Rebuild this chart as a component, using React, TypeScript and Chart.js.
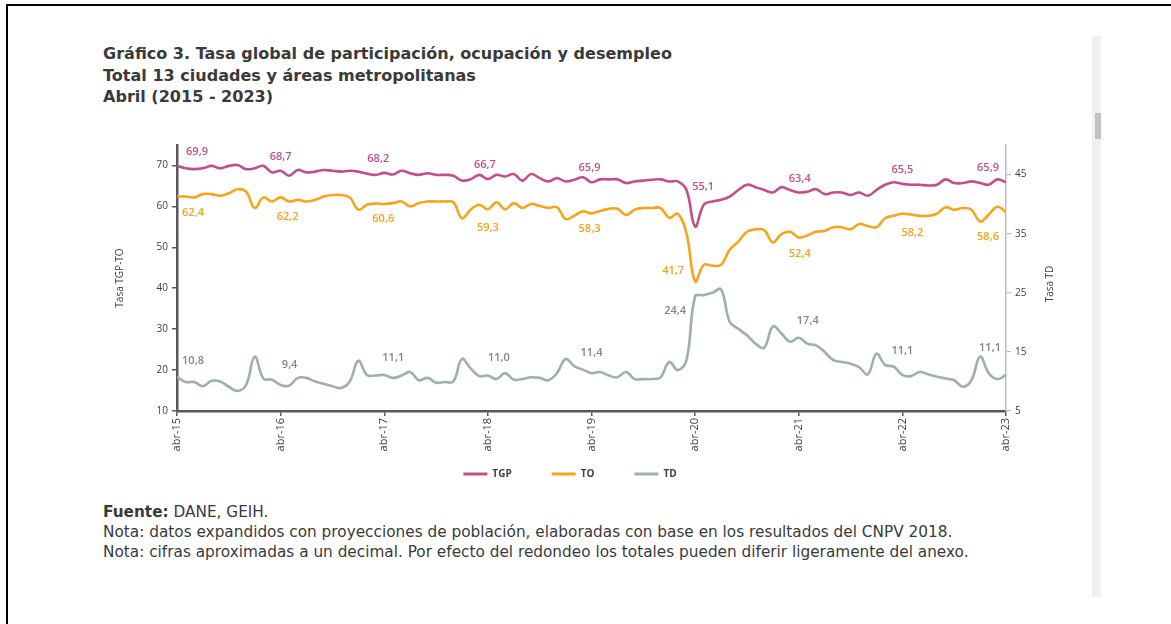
import React, { useEffect, useRef } from "react";
import { Chart, registerables } from "chart.js";

Chart.register(...registerables);

// ---------- categories (monthly, abr-15 .. abr-23) ----------
const MONTH_ABBR = ["ene", "feb", "mar", "abr", "may", "jun", "jul", "ago", "sep", "oct", "nov", "dic"];
const START_YEAR = 2015;
const START_MONTH = 3; // abril
const N_MONTHS = 97;
const categories: string[] = Array.from({ length: N_MONTHS }, (_, i) => {
  const m = START_MONTH + i;
  return `${MONTH_ABBR[m % 12]}-${String((START_YEAR + Math.floor(m / 12)) % 100).padStart(2, "0")}`;
});
const aprilIndex: number[] = categories.map((c, i) => (c.startsWith("abr") ? i : -1)).filter((i) => i >= 0);

// ---------- series ----------
const tgp = [
  69.9, 69.3, 69.1, 69.3, 69.9, 69.3, 69.9, 70.1, 69.1, 69.3, 69.9, 68.3,
  68.7, 67.5, 68.9, 68.3, 68.5, 68.9, 68.7, 68.5, 68.7, 68.5, 68.0, 67.7,
  68.2, 67.8, 68.7, 68.1, 67.7, 68.1, 67.7, 67.7, 67.5, 66.3, 66.6, 67.7,
  66.7, 67.7, 67.3, 67.9, 66.3, 67.9, 66.9, 66.1, 66.9, 66.1, 66.5, 67.1,
  65.9, 66.6, 66.6, 66.6, 65.7, 66.1, 66.3, 66.5, 66.6, 66.1, 66.1, 64.0,
  55.1, 60.4, 61.2, 61.6, 62.4, 64.0, 65.3, 64.7, 64.0, 63.4, 64.7, 64.0,
  63.4, 63.6, 64.2, 63.0, 63.4, 63.4, 62.8, 63.4, 62.6, 64.0, 65.3, 65.9,
  65.5, 65.3, 65.3, 65.1, 65.3, 66.6, 65.7, 65.7, 66.1, 65.7, 65.3, 66.6,
  65.9,
];
const to = [
  62.4, 62.4, 62.2, 63.0, 63.0, 62.6, 63.2, 64.2, 63.6, 59.6, 62.2, 61.2,
  62.2, 61.2, 61.6, 61.2, 61.6, 62.4, 62.8, 62.8, 62.2, 59.2, 60.4, 60.7,
  60.6, 60.8, 61.2, 60.0, 60.8, 61.2, 61.2, 61.2, 61.0, 57.1, 59.2, 60.4,
  59.3, 61.0, 59.3, 60.8, 59.6, 60.6, 60.1, 59.6, 59.8, 56.9, 57.7, 58.8,
  58.3, 58.9, 59.4, 59.4, 57.9, 59.2, 59.6, 59.6, 59.6, 57.2, 58.2, 53.4,
  41.7, 45.7, 45.5, 45.7, 49.4, 51.4, 53.8, 54.4, 54.2, 51.2, 53.2, 53.8,
  52.4, 52.9, 53.8, 54.0, 54.9, 54.9, 54.4, 55.7, 55.2, 54.9, 57.1, 57.7,
  58.2, 58.0, 57.7, 57.7, 58.2, 59.8, 59.2, 59.6, 59.2, 56.3, 58.0, 59.9,
  58.6,
];
const td = [
  10.8, 9.9, 9.9, 9.2, 10.1, 10.0, 9.1, 8.4, 9.4, 14.2, 10.5, 10.3,
  9.4, 9.3, 10.6, 10.6, 10.0, 9.6, 9.2, 8.9, 10.0, 13.5, 11.1, 11.0,
  11.1, 10.6, 11.0, 11.6, 10.2, 10.6, 9.8, 9.9, 10.0, 13.8, 12.2, 10.9,
  11.0, 10.4, 11.4, 10.3, 10.4, 10.7, 10.6, 10.2, 11.4, 13.8, 12.6, 12.0,
  11.4, 11.6, 11.0, 10.7, 11.6, 10.4, 10.4, 10.4, 10.7, 13.3, 11.9, 13.6,
  24.4, 24.6, 25.0, 25.6, 20.1, 18.9, 17.8, 16.4, 15.7, 19.3, 18.1, 16.7,
  17.4, 16.4, 16.1, 15.0, 13.6, 13.3, 13.0, 12.4, 11.2, 14.7, 12.8, 12.5,
  11.1, 10.9, 11.6, 11.2, 10.8, 10.5, 10.2, 9.1, 10.2, 14.2, 11.4, 10.4,
  11.1,
];
const seriesNames = ["TGP", "TO", "TD"];
const leftTicks = [10, 20, 30, 40, 50, 60, 70];
const rightTicks = [5, 15, 25, 35, 45];

// ---------- styles ----------
const COLORS = ["#c0508a", "#f5a51d", "#9db0a9"];
const LABEL_COLORS = ["#c0508a", "#f2a31b", "#858585"];
// label offsets (px) relative to the point, one per April
const LABEL_OFFSETS: number[][][] = [
  [[20, -14], [0, -14], [-6, -14], [-3, -14], [-2, -14], [8, -40], [1, -14], [0, -14], [-18, -14]],
  [[16, 16], [7, 19], [-1, 15], [0, 19], [-2, 16], [-22, -10], [1, 16], [10, 19], [-18, 25]],
  [[16, -16], [9, -20], [9, -17], [11, -18], [0, -20], [-20, 15], [9, -17], [0, -24], [-16, -27]],
];
const FONT = '"Open Sans", "Noto Sans", sans-serif';
const TEXT_FONT = '"DejaVu Sans", "Open Sans", sans-serif';
const fmt = (v: number) => v.toFixed(1).replace(".", ",");

const annotatePlugin = {
  id: "annotate",
  afterLayout(chart: any) {
    // let the rotated month labels extend below the (compact) axis box
    const x = chart.scales.x;
    x.bottom = x.top + 60;
  },
  afterDatasetsDraw(chart: any) {
    const ctx = chart.ctx as CanvasRenderingContext2D;
    ctx.save();
    ctx.font = `600 11px ${FONT}`;
    ctx.textAlign = "center";
    ctx.textBaseline = "middle";
    chart.data.datasets.forEach((ds: any, di: number) => {
      const meta = chart.getDatasetMeta(di);
      ctx.fillStyle = LABEL_COLORS[di];
      aprilIndex.forEach((idx, k) => {
        const pt = meta.data[idx];
        const off = LABEL_OFFSETS[di][k];
        ctx.fillText(fmt(ds.data[idx]), pt.x + off[0], pt.y + off[1]);
      });
    });
    // right axis title (reads bottom-to-top)
    const y1 = chart.scales.y1;
    const ca = chart.chartArea;
    ctx.translate(y1.right + 10, (ca.top + ca.bottom) / 2 + 6);
    ctx.rotate(-Math.PI / 2);
    ctx.font = `10px ${FONT}`;
    ctx.fillStyle = "#404040";
    ctx.fillText("Tasa TD", 0, 0);
    ctx.restore();
  },
};

export default function App() {
  const ref = useRef<HTMLCanvasElement>(null);

  useEffect(() => {
    const seriesData = [tgp, to, td];
    const chart = new Chart(ref.current!, {
      type: "line",
      data: {
        labels: categories.map((_, i) => i),
        datasets: seriesData.map((d, i) => ({
          label: seriesNames[i],
          data: d,
          borderColor: COLORS[i],
          backgroundColor: COLORS[i],
          borderWidth: 2.6,
          pointRadius: 0,
          tension: 0.4,
          fill: false,
          yAxisID: i === 2 ? "y1" : "y",
        })),
      },
      options: {
        responsive: false,
        animation: false,
        devicePixelRatio: 1,
        layout: { padding: { top: 10, left: 0, right: 30, bottom: 0 } },
        scales: {
          x: {
            type: "linear",
            min: 0,
            max: N_MONTHS - 1,
            afterBuildTicks: (s: any) => {
              s.ticks = aprilIndex.map((v) => ({ value: v }));
            },
            afterFit: (s: any) => {
              s.height = 18;
            },
            ticks: {
              autoSkip: false,
              minRotation: 90,
              maxRotation: 90,
              padding: 2,
              color: "#404040",
              font: { size: 11, family: FONT },
              callback: (v: any) => categories[v] ?? "",
            },
            grid: { drawOnChartArea: false, drawTicks: true, tickLength: 5, color: "#595959", lineWidth: 1.5 },
            border: { display: true, color: "#595959", width: 2.5 },
          },
          y: {
            position: "left",
            min: 10,
            max: 75,
            afterBuildTicks: (s: any) => {
              s.ticks = leftTicks.map((v) => ({ value: v }));
            },
            afterFit: (s: any) => {
              s.width = 77;
            },
            ticks: { color: "#404040", padding: 4, font: { size: 10, family: FONT } },
            grid: { drawOnChartArea: false, drawTicks: true, tickLength: 5, color: "#595959", lineWidth: 1.5 },
            border: { display: true, color: "#595959", width: 2.5 },
            title: {
              display: true,
              text: "Tasa TGP-TO",
              color: "#404040",
              font: { size: 10, family: FONT },
              padding: { top: 14, bottom: 0 },
            },
          },
          y1: {
            position: "right",
            min: 5,
            max: 50,
            afterBuildTicks: (s: any) => {
              s.ticks = rightTicks.map((v) => ({ value: v }));
            },
            afterFit: (s: any) => {
              s.width = 34;
            },
            ticks: { color: "#404040", padding: 4, font: { size: 10, family: FONT } },
            grid: { drawOnChartArea: false, drawTicks: true, tickLength: 5, color: "#bdbdbd", lineWidth: 1.2 },
            border: { display: true, color: "#bdbdbd", width: 1.5 },
          },
        },
        plugins: {
          tooltip: { enabled: false },
          legend: {
            display: true,
            position: "bottom",
            align: "center",
            labels: {
              boxWidth: 24,
              boxHeight: 3,
              padding: 40,
              color: "#404040",
              font: { size: 10, weight: "bold", family: FONT },
              generateLabels: (c: any) =>
                (Chart.defaults.plugins.legend.labels.generateLabels as any)(c).map((l: any) => ({ ...l, lineWidth: 0 })),
            },
          },
        },
      },
      plugins: [annotatePlugin],
    } as any);
    return () => chart.destroy();
  }, []);

  return (
    <div
      style={{
        position: "absolute",
        left: 0,
        top: 0,
        width: 1171,
        height: 624,
        overflow: "hidden",
        background: "#ffffff",
        fontFamily: TEXT_FONT,
        color: "#3a3a3a",
      }}
    >
      <div
        style={{
          position: "absolute",
          left: 6,
          top: 4,
          width: 1300,
          height: 800,
          borderTop: "2px solid #000",
          borderLeft: "2px solid #000",
        }}
      />
      <div
        style={{
          position: "absolute",
          left: 103,
          top: 43,
          fontSize: 16.05,
          fontWeight: 700,
          lineHeight: "21.5px",
          whiteSpace: "nowrap",
        }}
      >
        <div>Gráfico 3. Tasa global de participación, ocupación y desempleo</div>
        <div>Total 13 ciudades y áreas metropolitanas</div>
        <div>Abril (2015 - 2023)</div>
      </div>
      <canvas
        ref={ref}
        width={970}
        height={354}
        style={{ position: "absolute", left: 100, top: 135, width: 970, height: 354 }}
      />
      <div
        style={{
          position: "absolute",
          left: 103,
          top: 502,
          fontSize: 15.3,
          lineHeight: "20px",
          whiteSpace: "nowrap",
        }}
      >
        <div>
          <b>Fuente:</b> DANE, GEIH.
        </div>
        <div>Nota: datos expandidos con proyecciones de población, elaboradas con base en los resultados del CNPV 2018.</div>
        <div>Nota: cifras aproximadas a un decimal. Por efecto del redondeo los totales pueden diferir ligeramente del anexo.</div>
      </div>
      <div style={{ position: "absolute", left: 1092, top: 36, width: 9, height: 561, background: "#f0f0f0" }} />
      <div style={{ position: "absolute", left: 1095, top: 113, width: 6, height: 26, background: "#c1c1c1" }} />
    </div>
  );
}
